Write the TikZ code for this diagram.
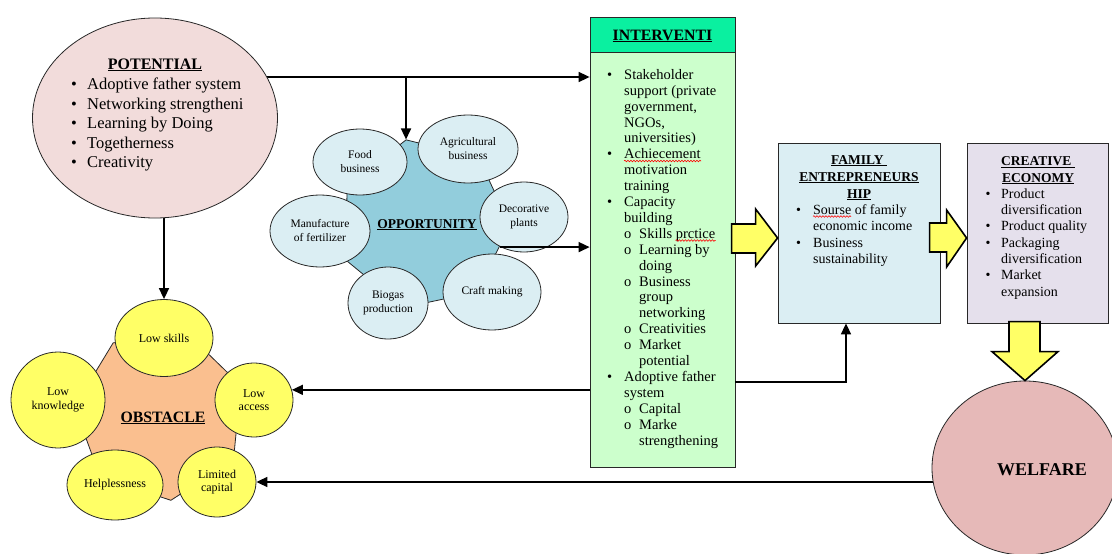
\documentclass[tikz,border=0pt]{standalone}
\usepackage{fontspec}
\setmainfont{Liberation Serif}
\usetikzlibrary{arrows.meta,shapes.geometric,backgrounds,calc,decorations.pathmorphing}
\newcommand{\bl}[1]{\makebox[#1][l]{\textbullet}}
\newcommand{\ind}[1]{\hspace*{#1}}
\newcommand{\sbul}{\hspace*{17pt}\makebox[15pt][l]{o}}
\definecolor{potfill}{RGB}{242,220,219}
\definecolor{oppfill}{RGB}{146,205,220}
\definecolor{oppsub}{RGB}{219,238,243}
\definecolor{inthead}{RGB}{10,240,160}
\definecolor{intbody}{RGB}{204,255,204}
\definecolor{famfill}{RGB}{219,238,243}
\definecolor{crefill}{RGB}{229,224,236}
\definecolor{welfill}{RGB}{230,185,184}
\definecolor{obsfill}{RGB}{250,191,143}
\definecolor{obssub}{RGB}{255,255,102}
\definecolor{blkfill}{RGB}{255,255,102}
\definecolor{edgecol}{RGB}{40,40,40}
\begin{document}
\begin{tikzpicture}[x=1pt,y=-1pt,
  shp/.style={draw=edgecol, line width=0.8pt},
  oval/.style={shp, ellipse, inner sep=0pt, align=center},
  smalloval/.style={oval, fill=oppsub, font=\fontsize{11.5}{14}\selectfont},
  yoval/.style={oval, fill=obssub, font=\fontsize{12}{13.5}\selectfont},
  boxst/.style={shp, rectangle, inner sep=0pt},
  hepta/.style={shp, regular polygon, regular polygon sides=7, minimum size=172, inner sep=0pt},
  conn/.style={line width=1.6pt, -{Triangle[length=11pt,width=10pt]}},
  blk/.style={draw=black, line width=1.6pt, fill=blkfill, line join=miter},
  ttl/.style={font=\bfseries\fontsize{16}{19}\selectfont, inner sep=0pt, anchor=base},
  lst/.style={align=left, inner sep=0pt, anchor=north west},
  wave/.style={red, line width=0.6pt, decorate, decoration={snake, amplitude=0.8pt, segment length=3pt}}]
\useasboundingbox (0,0) rectangle (1112,554);

% POTENTIAL
\node[oval, fill=potfill, minimum width=245, minimum height=200] (pot) at (155,118) {};
\node[ttl] (pottitle) at (155,69) {\underline{POTENTIAL}};
\node[lst, font=\fontsize{16.5}{19.5}\selectfont] (potlist) at (71,77.7)
  {\bl{16pt}Adoptive father system\\
   \bl{16pt}Networking strengtheni\\
   \bl{16pt}Learning by Doing\\
   \bl{16pt}Togetherness\\
   \bl{16pt}Creativity};

% OPPORTUNITY
\node[hepta, fill=oppfill, shape border rotate=12] (opp) at (424,224) {};
\node[ttl, font=\bfseries\fontsize{13.5}{16}\selectfont] (opptitle) at (427,228) {\underline{OPPORTUNITY}};
\node[smalloval, minimum width=94, minimum height=66] (food) at (360,162) {Food\\business};
\node[smalloval, minimum width=100, minimum height=68] (agri) at (468,149) {Agricultural\\business};
\node[smalloval, minimum width=88, minimum height=70] (deco) at (524,217) {Decorative\\plants};
\node[smalloval, minimum width=98, minimum height=76] (craft) at (492,292) {Craft making};
\node[smalloval, minimum width=80, minimum height=72] (biogas) at (388,303) {Biogas\\production};
\node[smalloval, minimum width=100, minimum height=72] (manuf) at (320,231) {Manufacture\\of fertilizer};

% OBSTACLE
\node[hepta, fill=obsfill, shape border rotate=33] (obs) at (160,415) {};
\node[ttl, font=\bfseries\fontsize{15.8}{18}\selectfont] (obstitle) at (163,422) {\underline{OBSTACLE}};
\node[yoval, minimum width=98, minimum height=77] (lowsk) at (164,338) {Low skills};
\node[yoval, minimum width=94, minimum height=96] (lowkn) at (58,400) {Low\\knowledge};
\node[yoval, minimum width=78, minimum height=74] (lowacc) at (254,400) {Low\\access};
\node[yoval, minimum width=96, minimum height=70] (helpl) at (115,485) {Helplessness};
\node[yoval, minimum width=78, minimum height=70] (limcap) at (217,482) {Limited\\capital};

% INTERVENTION
\node[boxst, fill=inthead, minimum width=145, minimum height=35] (inthead) at (662.5,34.5) {};
\node[ttl, font=\bfseries\fontsize{15.8}{18}\selectfont] (inttitle) at (662.5,40) {\underline{INTERVENTI}};
\node[boxst, fill=intbody, minimum width=145, minimum height=415] (int) at (662.5,259.5) {};
\node[lst, font=\fontsize{14.5}{15.9}\selectfont] (intlist) at (607,69.1)
  {\bl{17pt}Stakeholder\\
   \ind{17pt}support (private\\
   \ind{17pt}government,\\
   \ind{17pt}NGOs,\\
   \ind{17pt}universities)\\
   \bl{17pt}Achiecement\\
   \ind{17pt}motivation\\
   \ind{17pt}training\\
   \bl{17pt}Capacity\\
   \ind{17pt}building\\
   \sbul Skills prctice\\
   \sbul Learning by\\
   \ind{32pt}doing\\
   \sbul Business\\
   \ind{32pt}group\\
   \ind{32pt}networking\\
   \sbul Creativities\\
   \sbul Market\\
   \ind{32pt}potential\\
   \bl{17pt}Adoptive father\\
   \ind{17pt}system\\
   \sbul Capital\\
   \sbul Marke\\
   \ind{32pt}strengthening};
\draw[wave] (624,161) -- ++(77,0);
\draw[wave] (675.5,240.5) -- ++(40,0);

% FAMILY ENTREPRENEURSHIP
\node[boxst, fill=famfill, minimum width=162, minimum height=180] (fam) at (859,233) {};
\node[inner sep=0pt, anchor=north, align=center, font=\bfseries\fontsize{13.5}{17}\selectfont] (famtitle) at (859,155)
  {\underline{FAMILY\ }\\ \underline{ENTREPRENEURS}\\ \underline{HIP}};
\node[lst, font=\fontsize{14}{16.3}\selectfont] (famlist) at (796,204.4)
  {\bl{17pt}Sourse of family\\
   \ind{17pt}economic income\\
   \bl{17pt}Business\\
   \ind{17pt}sustainability};
\draw[wave] (813,216.5) -- ++(38,0);

% CREATIVE ECONOMY
\node[boxst, fill=crefill, minimum width=141, minimum height=180] (cre) at (1037.5,233) {};
\node[inner sep=0pt, anchor=north, align=center, font=\bfseries\fontsize{13.5}{17}\selectfont] (cretitle) at (1038,156)
  {\underline{CREATIVE\ }\\ \underline{ECONOMY}};
\node[lst, font=\fontsize{14}{16.3}\selectfont] (crelist) at (985.5,188.4)
  {\bl{15.5pt}Product\\
   \ind{15.5pt}diversification\\
   \bl{15.5pt}Product quality\\
   \bl{15.5pt}Packaging\\
   \ind{15.5pt}diversification\\
   \bl{15.5pt}Market\\
   \ind{15.5pt}expansion};

% WELFARE
\node[oval, fill=welfill, minimum width=186, minimum height=174] (welf) at (1025,468) {};
\node[ttl, font=\bfseries\fontsize{18}{20}\selectfont] (welftitle) at (1042,475) {WELFARE};

% connectors
\coordinate (y77) at (0,77);
\coordinate (j1) at (opp.corner 1 |- y77);
\coordinate (elb) at (846,382);
\draw[conn] (j1) -- (opp.corner 1);
\draw[conn] (opp.-17) -- (int.west |- opp.-17);
\draw[conn] (int.west |- lowacc.15) -- (lowacc.15);
\draw[conn] (int.east |- elb) -- (elb) -- (elb |- fam.south);

% block arrows
\coordinate (t1) at (fam.west |- 0,238);
\coordinate (t2) at (cre.west |- 0,238);
\draw[blk] (t1) -- ++(-22,-29) -- ++(0,15) -- ++(-24,0) -- ++(0,29) -- ++(24,0) -- ++(0,13) -- cycle;
\draw[blk] (t2) -- ++(-20,-28) -- ++(0,13) -- ++(-17,0) -- ++(0,29) -- ++(17,0) -- ++(0,15) -- cycle;
\draw[blk] (welf.north) -- ++(-33,-29) -- ++(17,0) -- ++(0,-30) -- ++(31,0) -- ++(0,30) -- ++(18,0) -- cycle;

\begin{scope}[on background layer]
  \fill[white] (0,0) rectangle (1112,554);
  \draw[conn] (pot.center |- y77) -- (int.west |- y77);
  \draw[conn] (lowsk.north |- pot.center) -- (lowsk.north);
  \draw[conn] (welf.center |- limcap.east) -- (limcap.east);
\end{scope}
\end{tikzpicture}
\end{document}
